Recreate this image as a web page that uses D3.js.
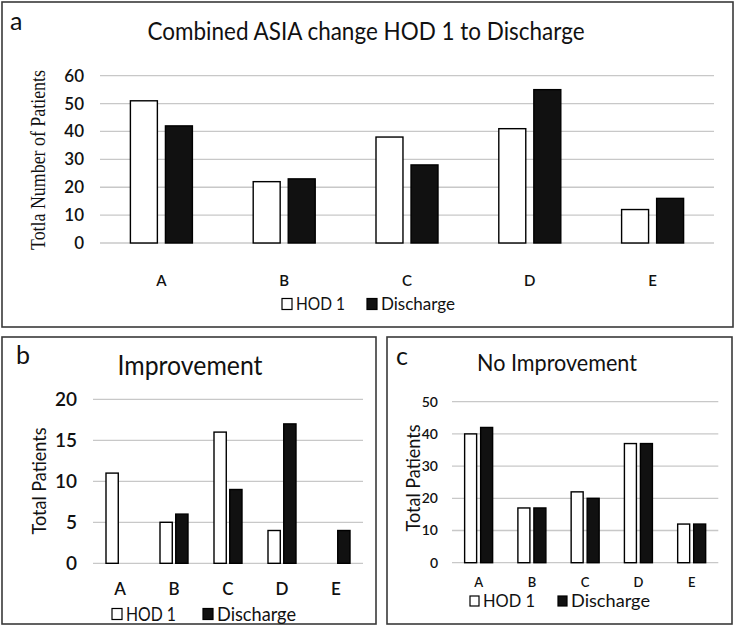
<!DOCTYPE html>
<html>
<head>
<meta charset="UTF-8">
<title>ASIA change</title>
<script src="https://cdn.jsdelivr.net/npm/d3@7"></script>
<style>
body { margin: 0; background: #fff; }
text { font-family: Lato, "Noto Sans", sans-serif; fill: #111; }
.grid line { stroke: #c8c8c8; stroke-width: 1.3px; }
.frame { fill: none; stroke: #3a3a3a; stroke-width: 1.6px; }
.bar { stroke: #000; stroke-width: 1.4px; }
</style>
</head>
<body>
<svg id="fig" width="735" height="631"></svg>
<script>
// data
var categories = ["A", "B", "C", "D", "E"];
var seriesNames = ["HOD 1", "Discharge"];
var seriesFill = ["#fff", "#111"];

var combinedHod1 = [51, 22, 38, 41, 12];
var combinedDischarge = [42, 23, 28, 55, 16];
var improvHod1 = [11, 5, 16, 4, 0];
var improvDischarge = [0, 6, 9, 17, 4];
var noImprovHod1 = [40, 17, 22, 37, 12];
var noImprovDischarge = [42, 17, 20, 37, 12];

var ticksA = [0, 10, 20, 30, 40, 50, 60];
var ticksB = [0, 5, 10, 15, 20];
var ticksC = [0, 10, 20, 30, 40, 50];

var svg = d3.select("#fig");

function fit(sel, w) {
  sel.attr("textLength", w).attr("lengthAdjust", "spacingAndGlyphs");
}

function panel(p) {
  var g = svg.append("g");
  g.append("rect").attr("class", "frame")
    .attr("x", p.box[0]).attr("y", p.box[1]).attr("width", p.box[2]).attr("height", p.box[3]);

  var x = d3.scaleBand().domain(categories).range([p.x0, p.x1]);
  var xs = d3.scaleBand().domain(seriesNames).range([0, p.groupW]).paddingInner(p.pad);
  var y = d3.scaleLinear().domain([0, d3.max(p.ticks)]).range([p.y0, p.y1]);

  // gridlines
  g.append("g").attr("class", "grid").selectAll("line").data(p.ticks).join("line")
    .attr("x1", p.x0).attr("x2", p.x1)
    .attr("y1", function(d) { return y(d); }).attr("y2", function(d) { return y(d); });

  // tick labels
  g.selectAll(".tick").data(p.ticks).join("text")
    .attr("x", p.tickX).attr("y", function(d) { return y(d); })
    .attr("dy", "0.35em").attr("text-anchor", "end")
    .style("font-size", p.tickSize + "px").style("font-weight", 600)
    .text(function(d) { return d; });

  // bars
  var rows = [];
  categories.forEach(function(c, i) {
    p.series.forEach(function(s, j) {
      rows.push({cat: c, name: seriesNames[j], v: s[i], j: j});
    });
  });
  g.selectAll(".bar").data(rows.filter(function(d) { return d.v > 0; })).join("rect")
    .attr("class", "bar")
    .attr("x", function(d) { return x(d.cat) + x.bandwidth() / 2 - p.groupW / 2 + xs(d.name); })
    .attr("width", xs.bandwidth())
    .attr("y", function(d) { return y(d.v); })
    .attr("height", function(d) { return y(0) - y(d.v); })
    .attr("fill", function(d) { return seriesFill[d.j]; });

  // category labels
  g.selectAll(".cat").data(categories).join("text")
    .attr("x", function(d) { return x(d) + x.bandwidth() / 2; })
    .attr("y", p.catY).attr("dy", "0.35em").attr("text-anchor", "middle")
    .style("font-size", p.catSize + "px").style("font-weight", 600)
    .text(function(d) { return d; });

  // title and panel letter
  g.append("text").attr("x", p.titleX).attr("y", p.titleY).attr("dy", "0.35em")
    .attr("text-anchor", "middle").style("font-size", p.titleSize + "px")
    .text(p.title).call(fit, p.titleW);
  g.append("text").attr("x", p.letter[0]).attr("y", p.letter[1]).attr("dy", "0.35em")
    .style("font-size", "25px").text(p.letterText);

  // y axis label
  g.append("text")
    .attr("transform", "translate(" + p.ylab[0] + "," + p.ylab[1] + ") rotate(-90) scale(1," + (p.ylabStretch || 1) + ")")
    .attr("dy", "0.35em").attr("text-anchor", "middle")
    .style("font-size", p.ylabSize + "px")
    .style("font-family", p.ylabSerif ? "'Liberation Serif', 'DejaVu Serif', serif" : null)
    .text(p.ylabText).call(fit, p.ylabW);

  // legend
  var lg = g.append("g");
  seriesNames.forEach(function(n, j) {
    lg.append("rect").attr("x", p.leg[j][0]).attr("y", p.legY - p.legSq / 2)
      .attr("width", p.legSq - 1).attr("height", p.legSq)
      .attr("fill", seriesFill[j]).attr("stroke", "#000").attr("stroke-width", 1.2);
    lg.append("text").attr("x", p.leg[j][0] + p.legSq + 3).attr("y", p.legY).attr("dy", "0.36em")
      .style("font-size", p.legSize + "px").text(n).call(fit, p.legW[j]);
  });
}

panel({
  box: [2, 2, 731, 325], series: [combinedHod1, combinedDischarge], ticks: ticksA,
  x0: 100, x1: 714, y0: 243, y1: 75.7, groupW: 62, pad: 0.23,
  tickX: 84, tickSize: 17, catY: 281, catSize: 15,
  title: "Combined ASIA change HOD 1 to Discharge", titleX: 366, titleY: 31, titleSize: 25, titleW: 437,
  letter: [10, 21], letterText: "a",
  ylab: [37, 160], ylabText: "Totla Number of Patients", ylabSize: 18, ylabW: 180, ylabSerif: true, ylabStretch: 1.2,
  leg: [[282], [367]], legY: 304, legSq: 11, legSize: 18, legW: [49, 74]
});

panel({
  box: [2, 337, 374, 287], series: [improvHod1, improvDischarge], ticks: ticksB,
  x0: 93, x1: 363, y0: 563.3, y1: 399.3, groupW: 28, pad: 0.22,
  tickX: 77, tickSize: 19, catY: 589, catSize: 17,
  title: "Improvement", titleX: 190, titleY: 366, titleSize: 26, titleW: 145,
  letter: [16, 355], letterText: "b",
  ylab: [39, 481], ylabText: "Total Patients", ylabSize: 19, ylabW: 107,
  leg: [[112], [203]], legY: 614, legSq: 11, legSize: 19, legW: [50, 79]
});

panel({
  box: [387, 337, 345, 287], series: [noImprovHod1, noImprovDischarge], ticks: ticksC,
  x0: 452, x1: 718.3, y0: 562.7, y1: 401.7, groupW: 28, pad: 0.25,
  tickX: 438, tickSize: 14, catY: 582, catSize: 13,
  title: "No Improvement", titleX: 557, titleY: 363, titleSize: 24, titleW: 160,
  letter: [396, 356], letterText: "c",
  ylab: [413, 478], ylabText: "Total Patients", ylabSize: 19, ylabW: 107,
  leg: [[470], [558]], legY: 601, legSq: 10, legSize: 18, legW: [52, 79]
});
</script>
</body>
</html>
